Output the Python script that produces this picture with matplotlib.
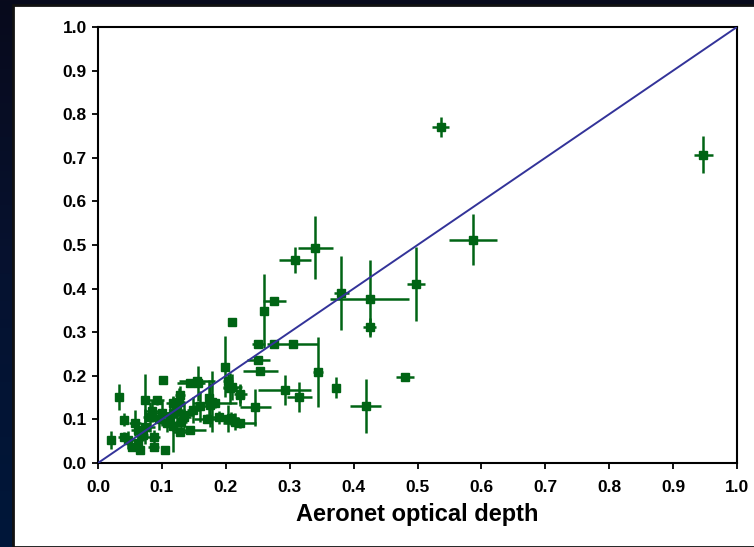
import numpy as np
import matplotlib
matplotlib.use('Agg')
import matplotlib.pyplot as plt
from matplotlib.patches import Rectangle
from matplotlib.colors import LinearSegmentedColormap

plt.rcParams['font.family'] = ['Liberation Sans', 'DejaVu Sans']

# Aeronet optical depth (x) vs retrieved optical depth (y), with errors
aod_x = [0.536, 0.947, 0.587, 0.340, 0.308, 0.498, 0.381, 0.425, 0.425, 0.276,
         0.259, 0.209, 0.251, 0.276, 0.305, 0.344, 0.251, 0.254, 0.292, 0.315,
         0.373, 0.480, 0.419, 0.246, 0.222, 0.204, 0.199, 0.204, 0.207, 0.222,
         0.183, 0.173, 0.170, 0.175, 0.157, 0.144, 0.149, 0.126, 0.128, 0.123,
         0.118, 0.118, 0.108, 0.102, 0.100, 0.105, 0.092, 0.087, 0.087, 0.081,
         0.074, 0.074, 0.066, 0.063, 0.058, 0.053, 0.047, 0.041, 0.040, 0.033,
         0.020, 0.144, 0.128, 0.117, 0.178, 0.208, 0.210, 0.223, 0.155, 0.135,
         0.062, 0.095, 0.112, 0.135, 0.160, 0.190, 0.215, 0.070, 0.085, 0.130]
aod_y = [0.770, 0.707, 0.512, 0.494, 0.465, 0.411, 0.390, 0.377, 0.313, 0.372,
         0.349, 0.324, 0.272, 0.272, 0.272, 0.209, 0.236, 0.211, 0.167, 0.151,
         0.173, 0.197, 0.131, 0.128, 0.091, 0.102, 0.221, 0.188, 0.171, 0.156,
         0.137, 0.148, 0.102, 0.133, 0.183, 0.183, 0.122, 0.141, 0.156, 0.122,
         0.137, 0.114, 0.092, 0.190, 0.114, 0.030, 0.144, 0.060, 0.037, 0.106,
         0.144, 0.083, 0.030, 0.045, 0.091, 0.037, 0.053, 0.099, 0.060, 0.151,
         0.053, 0.075, 0.072, 0.085, 0.140, 0.103, 0.175, 0.158, 0.187, 0.110,
         0.075, 0.100, 0.105, 0.105, 0.130, 0.105, 0.095, 0.065, 0.120, 0.095]
err_x = [0.013, 0.015, 0.038, 0.027, 0.025, 0.014, 0.012, 0.062, 0.010, 0.018,
         0.005, 0.004, 0.010, 0.005, 0.040, 0.008, 0.018, 0.027, 0.042, 0.020,
         0.004, 0.014, 0.024, 0.024, 0.026, 0.010, 0.004, 0.008, 0.012, 0.006,
         0.035, 0.006, 0.020, 0.008, 0.010, 0.020, 0.010, 0.010, 0.008, 0.010,
         0.012, 0.020, 0.010, 0.005, 0.012, 0.004, 0.012, 0.010, 0.008, 0.010,
         0.006, 0.015, 0.006, 0.006, 0.010, 0.005, 0.010, 0.006, 0.008, 0.006,
         0.004, 0.025, 0.010, 0.012, 0.005, 0.012, 0.015, 0.010, 0.028, 0.015,
         0.010, 0.008, 0.012, 0.010, 0.012, 0.020, 0.010, 0.008, 0.012, 0.010]
err_y = [0.023, 0.042, 0.058, 0.072, 0.030, 0.085, 0.085, 0.088, 0.020, 0.003,
         0.085, 0.006, 0.004, 0.003, 0.003, 0.080, 0.010, 0.008, 0.035, 0.035,
         0.025, 0.005, 0.062, 0.042, 0.010, 0.030, 0.070, 0.015, 0.035, 0.025,
         0.010, 0.042, 0.010, 0.050, 0.040, 0.008, 0.030, 0.030, 0.020, 0.030,
         0.015, 0.040, 0.020, 0.005, 0.030, 0.010, 0.010, 0.015, 0.005, 0.035,
         0.060, 0.040, 0.010, 0.020, 0.030, 0.010, 0.020, 0.015, 0.010, 0.030,
         0.020, 0.005, 0.005, 0.060, 0.070, 0.015, 0.030, 0.020, 0.005, 0.030,
         0.020, 0.025, 0.030, 0.020, 0.035, 0.015, 0.020, 0.015, 0.025, 0.020]

ticks = [0.0, 0.1, 0.2, 0.3, 0.4, 0.5, 0.6, 0.7, 0.8, 0.9, 1.0]
tick_labels = ['0.0', '0.1', '0.2', '0.3', '0.4', '0.5', '0.6', '0.7', '0.8', '0.9', '1.0']

fig = plt.figure(figsize=(7.54, 5.47), dpi=100)

# dark navy backdrop
bg = fig.add_axes([0, 0, 1, 1])
grad = np.linspace(0, 1, 256).reshape(-1, 1)
cmap = LinearSegmentedColormap.from_list('bg', ['#080a1c', '#061230', '#00173a'])
bg.imshow(grad, aspect='auto', cmap=cmap, extent=[0, 1, 0, 1], origin='upper')
bg.add_patch(Rectangle((13 / 754, 0), 1, 1 - 5 / 547, facecolor='white',
                       edgecolor='#111111', linewidth=2.0))
bg.set_xlim(0, 1)
bg.set_ylim(0, 1)
bg.axis('off')

ax = fig.add_axes([98 / 754, 1 - 463 / 547, 639 / 754, 436 / 547])
ax.set_facecolor('white')

ax.plot([0, 1], [0, 1], color='#333399', linewidth=1.4, zorder=3)
ax.errorbar(aod_x, aod_y, xerr=err_x, yerr=err_y, fmt='s', color='#006414',
            markersize=5.6, elinewidth=1.8, capsize=0, zorder=2)

ax.set_xlim(0, 1)
ax.set_ylim(0, 1)
ax.set_xticks(ticks)
ax.set_yticks(ticks)
ax.set_xticklabels(tick_labels, fontsize=12.5, fontweight='bold')
ax.set_yticklabels(tick_labels, fontsize=12.5, fontweight='bold')
ax.tick_params(direction='out', length=4.5, width=1.3, colors='black')
ax.tick_params(axis='x', pad=7.5)
ax.tick_params(axis='y', pad=3.5)
for s in ax.spines.values():
    s.set_linewidth(1.5)
    s.set_color('black')

ax.set_xlabel('Aeronet optical depth', fontsize=17, fontweight='bold', labelpad=6)

fig.savefig('out.png', dpi=100)
